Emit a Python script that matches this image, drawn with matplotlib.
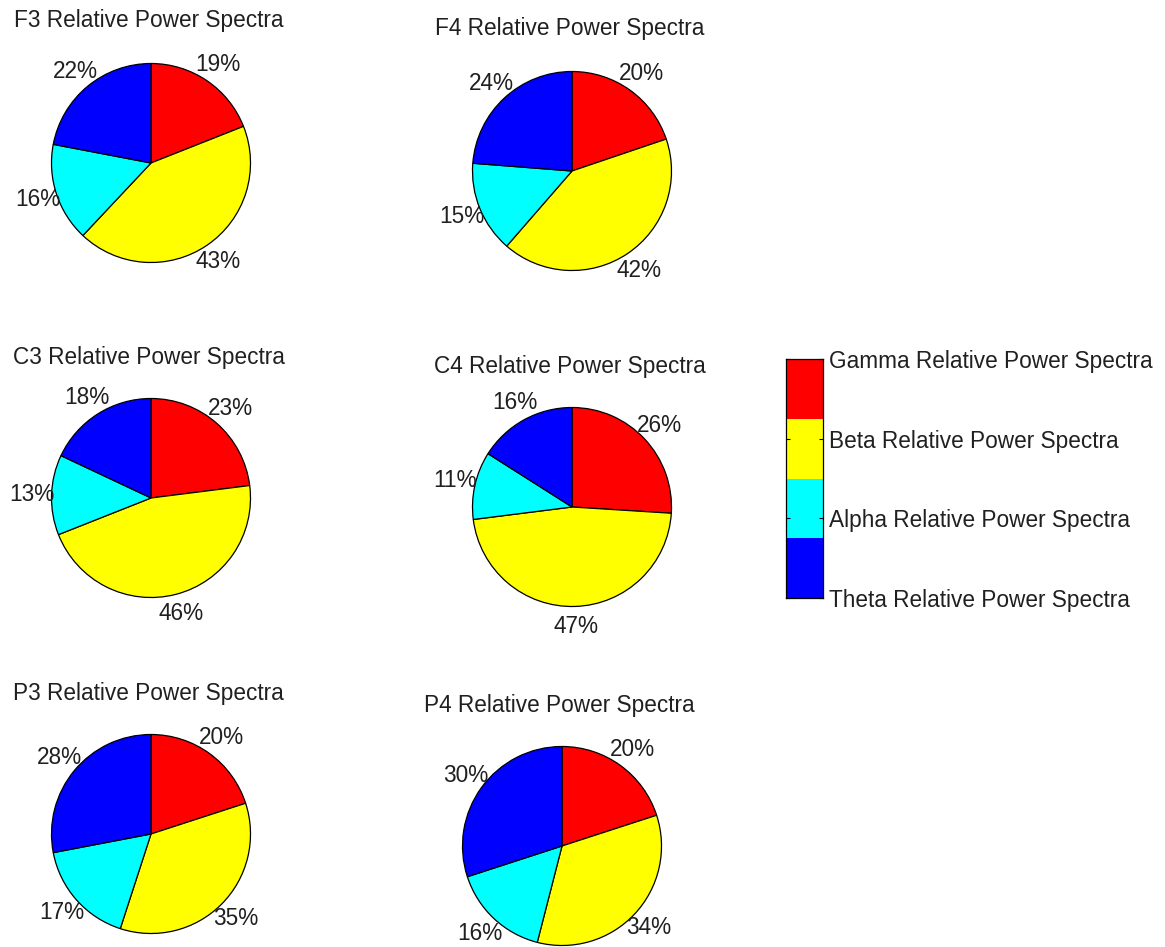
import numpy as np
import matplotlib.pyplot as plt

plt.rcParams['font.family'] = ['Liberation Sans', 'DejaVu Sans']

# relative power per channel, in percent
channels = ['F3', 'F4', 'C3', 'C4', 'P3', 'P4']
gamma = [19, 20, 23, 26, 20, 20]
beta = [43, 42, 46, 47, 35, 34]
alpha = [16, 15, 13, 11, 17, 16]
theta = [22, 24, 18, 16, 28, 30]

bands = ['Gamma Relative Power Spectra', 'Beta Relative Power Spectra',
         'Alpha Relative Power Spectra', 'Theta Relative Power Spectra']
colors = ['#ff0000', '#ffff00', '#00ffff', '#0000ff']

W, H = 1165, 947
fig = plt.figure(figsize=(W / 100, H / 100), dpi=100)

# pie centres in pixels (x, y from top)
centres = [(151, 163), (572, 171), (151, 498), (572, 507), (151, 834), (562, 846)]
title_y = [1.42, 1.42, 1.41, 1.41, 1.41, 1.41]
box = 260
fs = 16.3
tc = '#202020'

for i, ch in enumerate(channels):
    cx, cy = centres[i]
    ax = fig.add_axes([(cx - box / 2) / W, 1 - (cy + box / 2) / H, box / W, box / H])
    vals = [gamma[i], beta[i], alpha[i], theta[i]]
    labs = ['%d%%' % v for v in vals]
    wedges, texts = ax.pie(vals, colors=colors, labels=labs, startangle=90,
                           counterclock=False, radius=0.995, labeldistance=1.2,
                           wedgeprops=dict(edgecolor='black', linewidth=0.9),
                           textprops=dict(fontsize=fs, color=tc))
    for t in texts:
        t.set_ha('center')
        t.set_va('center')
    ax.set_xlim(-1.3, 1.3)
    ax.set_ylim(-1.3, 1.3)
    ax.axis('off')
    ax.text(-0.025, title_y[i], ch + ' Relative Power Spectra', ha='center',
            va='center', fontsize=fs, color=tc)

# legend drawn as a colour strip
lax = fig.add_axes([786 / W, 1 - 598 / H, 37 / W, 239 / H])
for k in range(len(bands)):
    lax.bar(0.5, 1, bottom=k, width=1, color=colors[k], edgecolor='none')
lax.set_xlim(0, 1)
lax.set_ylim(4, 0)
lax.set_xticks([])
lax.set_yticks(np.linspace(0, 4, 4))
lax.set_yticklabels(bands, fontsize=fs, color=tc)
lax.tick_params(axis='y', direction='in', length=3, left=True, right=True,
                labelleft=False, labelright=True, pad=4)
for s in lax.spines.values():
    s.set_linewidth(0.9)

fig.savefig('out.png', dpi=100)
